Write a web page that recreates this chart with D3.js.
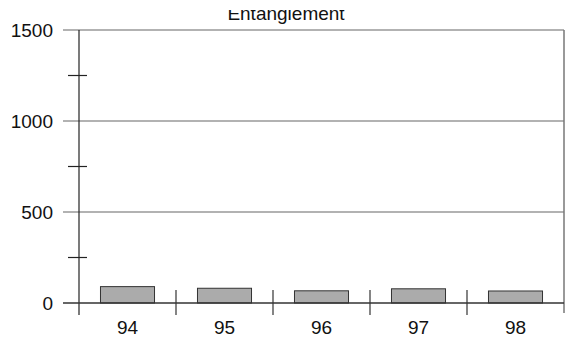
<!DOCTYPE html>
<html>
<head>
<meta charset="utf-8">
<script src="https://cdn.jsdelivr.net/npm/d3@7"></script>
<style>
  body { margin: 0; background: #fff; }
  text { font-family: Arial, "Liberation Sans", sans-serif; fill: #111; }
</style>
</head>
<body>
<svg id="chart"></svg>
<script>
const w = 567, h = 343;
const margins = { top: 30, right: 3, bottom: 40, left: 79 };

// data
const years = ['94', '95', '96', '97', '98'];
const counts = [90, 81, 67, 78, 66];
const majorTicks = [0, 500, 1000, 1500];
const minorTicks = [250, 750, 1250];
const title = 'Entanglement';

const chart = d3.select('#chart')
  .attr('width', w)
  .attr('height', h);

const p = 0.443;
const xScale = d3.scaleBand()
  .domain(years)
  .range([margins.left, w - margins.right])
  .paddingInner(p)
  .paddingOuter(p / 2);

const yScale = d3.scaleLinear()
  .domain([0, 1500])
  .range([h - margins.bottom, margins.top]);

const x0 = margins.left, x1 = w - margins.right;
const y0 = yScale(0);

// gridlines (and the top frame at 1500)
chart.append('g')
  .selectAll('line')
  .data(majorTicks.filter(d => d > 0))
  .join('line')
  .attr('x1', x0 - 16)
  .attr('x2', x1)
  .attr('y1', d => yScale(d))
  .attr('y2', d => yScale(d))
  .style('stroke', '#666')
  .style('stroke-width', 1.2);

// right frame
chart.append('line')
  .attr('x1', x1).attr('x2', x1)
  .attr('y1', yScale(1500)).attr('y2', y0 + 10)
  .style('stroke', '#777')
  .style('stroke-width', 1.5);

// bars
chart.append('g')
  .selectAll('rect')
  .data(counts)
  .join('rect')
  .attr('x', (d, i) => xScale(years[i]))
  .attr('y', d => yScale(d))
  .attr('width', xScale.bandwidth())
  .attr('height', d => y0 - yScale(d))
  .style('fill', '#ababab')
  .style('stroke', '#333')
  .style('stroke-width', 1);

// y axis line
chart.append('line')
  .attr('x1', x0).attr('x2', x0)
  .attr('y1', yScale(1500)).attr('y2', y0 + 12)
  .style('stroke', '#222')
  .style('stroke-width', 1.2);

// x axis line
chart.append('line')
  .attr('x1', x0 - 16).attr('x2', x1)
  .attr('y1', y0).attr('y2', y0)
  .style('stroke', '#333')
  .style('stroke-width', 1.3);

// minor ticks crossing the y axis
chart.append('g')
  .selectAll('line')
  .data(minorTicks)
  .join('line')
  .attr('x1', x0 - 11)
  .attr('x2', x0 + 8)
  .attr('y1', d => yScale(d))
  .attr('y2', d => yScale(d))
  .style('stroke', '#222')
  .style('stroke-width', 1.2);

// category dividers crossing the x axis
chart.append('g')
  .selectAll('line')
  .data(years.slice(0, -1))
  .join('line')
  .attr('x1', d => xScale(d) + xScale.bandwidth() / 2 + xScale.step() / 2)
  .attr('x2', d => xScale(d) + xScale.bandwidth() / 2 + xScale.step() / 2)
  .attr('y1', y0 - 13)
  .attr('y2', y0 + 12)
  .style('stroke', '#333')
  .style('stroke-width', 1.2);

// y labels
chart.append('g')
  .selectAll('text')
  .data(majorTicks)
  .join('text')
  .attr('x', x0 - 26)
  .attr('y', d => yScale(d))
  .attr('dy', '0.36em')
  .attr('text-anchor', 'end')
  .style('font-size', '19px')
  .text(d => d);

// x labels
chart.append('g')
  .selectAll('text')
  .data(years)
  .join('text')
  .attr('x', d => xScale(d) + xScale.bandwidth() / 2)
  .attr('y', 334)
  .attr('text-anchor', 'middle')
  .style('font-size', '19px')
  .text(d => d);

// title (top of it is cut off in the source)
chart.append('clipPath').attr('id', 'cut')
  .append('rect').attr('x', 0).attr('y', 10).attr('width', w).attr('height', 20);
chart.append('text')
  .attr('x', 286)
  .attr('y', 20)
  .attr('text-anchor', 'middle')
  .attr('clip-path', 'url(#cut)')
  .style('font-size', '19px')
  .text(title);
</script>
</body>
</html>
